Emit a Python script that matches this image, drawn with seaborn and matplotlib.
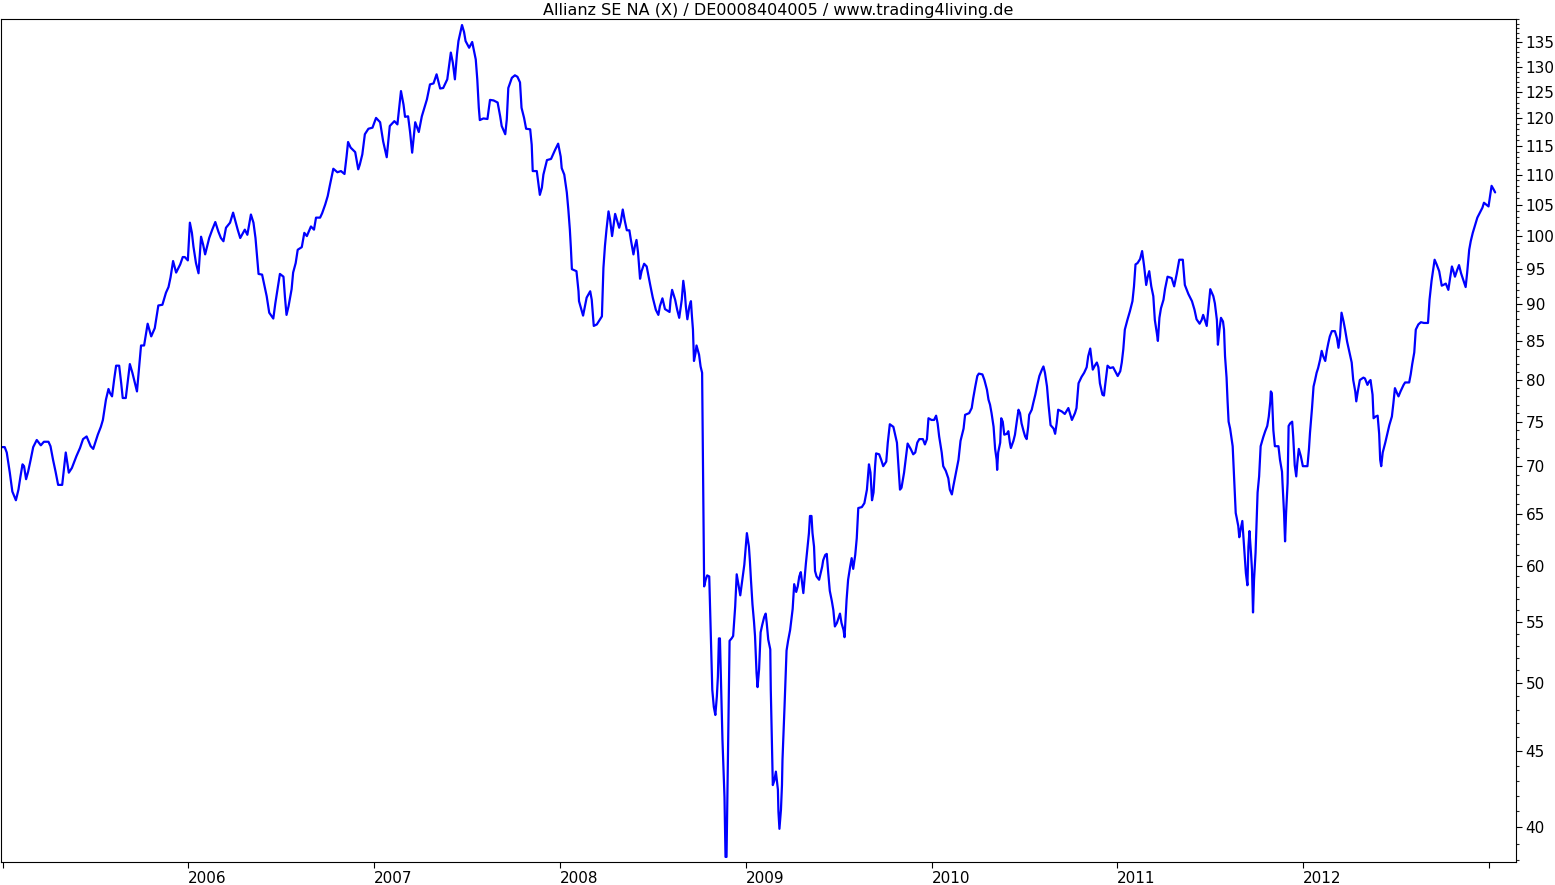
import matplotlib
matplotlib.use("Agg")
import matplotlib.pyplot as plt
import seaborn as sns
import pandas as pd
from matplotlib.ticker import FixedLocator, FixedFormatter, NullFormatter

title = "Allianz SE NA (X) / DE0008404005 / www.trading4living.de"
start = "2005-01-01"

# days since 2005-01-01 and weekly closing prices (EUR)
days_01 = [-3, 4, 8, 14, 19, 26, 31, 35, 39, 42, 46, 50, 55, 60, 67, 75, 81, 90, 94, 99, 104, 109, 117, 124, 130, 136, 145, 152, 158, 165, 173, 178, 187, 193]
price_01 = [72.1, 72.1, 71.5, 69.3, 67.3, 66.4, 67.5, 68.9, 70.2, 70.0, 68.6, 69.4, 70.7, 72.1, 72.9, 72.3, 72.7, 72.7, 72.2, 70.7, 69.4, 68.0, 68.0, 71.5, 69.3, 69.8, 71.1, 72.0, 73.0, 73.3, 72.2, 71.9, 73.5, 74.4]

days_02 = [197, 200, 203, 208, 211, 215, 219, 223, 229, 233, 236, 242, 250, 255, 260, 264, 270, 272, 278, 285, 292, 299, 306, 314, 321, 326, 330, 335, 341, 349, 354, 358, 364, 368, 372, 375, 380, 385]
price_02 = [75.2, 76.4, 77.6, 78.9, 78.4, 78.0, 80.0, 81.8, 81.8, 79.6, 77.8, 77.8, 82.0, 80.9, 79.6, 78.6, 83.0, 84.4, 84.4, 87.3, 85.6, 86.7, 89.8, 89.9, 91.6, 92.4, 93.8, 96.2, 94.5, 95.7, 96.8, 96.8, 96.3, 102.1, 100.5, 98.4, 95.9, 94.4]

days_03 = [390, 394, 398, 406, 412, 418, 424, 429, 434, 439, 447, 453, 462, 467, 476, 481, 488, 493, 497, 503, 510, 519, 524, 532, 536, 545, 552, 555, 558, 562, 568, 571, 576, 580]
price_03 = [99.9, 98.7, 97.2, 99.7, 101.0, 102.2, 100.7, 99.7, 99.2, 101.3, 102.1, 103.7, 101.0, 99.7, 101.0, 100.2, 103.4, 102.1, 99.7, 94.3, 94.2, 91.1, 88.8, 88.0, 90.1, 94.3, 93.9, 90.9, 88.5, 89.7, 92.1, 94.5, 95.9, 97.9]

days_04 = [588, 593, 598, 606, 612, 616, 624, 628, 634, 639, 643, 647, 650, 658, 665, 672, 676, 679, 684, 693, 699, 702, 707, 712, 719, 727, 734, 742, 748, 755, 761, 770, 776, 783]
price_04 = [98.3, 100.5, 100.0, 101.5, 101.0, 102.9, 102.9, 103.6, 105.0, 106.4, 108.1, 109.7, 111.0, 110.4, 110.6, 110.1, 113.1, 115.7, 114.7, 113.9, 110.9, 111.7, 113.5, 117.1, 118.1, 118.3, 120.1, 119.3, 115.8, 113.0, 118.6, 119.5, 118.9, 125.2]

days_05 = [788, 791, 797, 801, 805, 811, 818, 824, 829, 834, 840, 847, 853, 860, 866, 874, 881, 885, 889, 893, 896, 903, 907, 910, 917, 923, 930, 933, 936, 938, 945, 953, 958, 965, 973]
price_05 = [122.6, 120.3, 120.4, 117.4, 113.8, 119.3, 117.5, 120.4, 122.0, 123.6, 126.5, 126.7, 128.5, 125.7, 125.8, 127.5, 132.9, 130.8, 127.5, 132.5, 135.3, 138.7, 137.2, 135.3, 133.9, 135.1, 131.5, 127.5, 122.0, 119.7, 120.0, 119.9, 123.5, 123.4, 123.0]

days_06 = [978, 981, 988, 991, 994, 1001, 1007, 1012, 1017, 1020, 1025, 1029, 1037, 1040, 1042, 1050, 1056, 1060, 1063, 1070, 1078, 1086, 1092, 1097, 1099, 1104, 1109, 1112, 1115, 1117, 1119, 1128, 1132, 1133, 1141, 1148, 1155, 1158, 1162, 1168, 1178]
price_06 = [120.4, 118.6, 117.1, 119.8, 125.8, 127.8, 128.3, 128.0, 126.9, 122.0, 120.1, 118.1, 118.0, 115.2, 110.6, 110.6, 106.6, 107.8, 110.0, 112.5, 112.7, 114.3, 115.4, 113.1, 111.1, 110.0, 107.0, 104.2, 101.0, 98.2, 95.0, 94.7, 91.8, 90.4, 88.4, 90.9, 91.8, 90.6, 87.0, 87.2, 88.3]

days_07 = [1181, 1184, 1187, 1191, 1194, 1198, 1204, 1208, 1212, 1215, 1219, 1223, 1227, 1232, 1235, 1240, 1243, 1246, 1249, 1253, 1256, 1261, 1266, 1269, 1273, 1278, 1284, 1289, 1292, 1297, 1302, 1311, 1313, 1316, 1322, 1326, 1330, 1335, 1338, 1341, 1343, 1346, 1350, 1353, 1355, 1357, 1359, 1362, 1364, 1369, 1372, 1375]
price_07 = [95.2, 98.5, 101.0, 103.9, 102.6, 100.0, 103.5, 102.4, 101.3, 102.2, 104.2, 102.4, 100.9, 100.9, 99.4, 97.2, 98.5, 99.4, 97.5, 93.6, 94.7, 95.8, 95.4, 94.2, 92.7, 90.9, 89.2, 88.5, 89.7, 90.8, 89.3, 88.9, 90.6, 92.0, 90.6, 89.2, 88.1, 90.6, 93.3, 91.6, 89.7, 87.9, 89.7, 90.4, 88.3, 86.5, 82.4, 83.4, 84.4, 83.2, 81.7, 80.9]

days_08 = [1379, 1382, 1385, 1389, 1392, 1395, 1398, 1401, 1404, 1406, 1408, 1410, 1415, 1419, 1421, 1423, 1429, 1433, 1436, 1440, 1443, 1450, 1458, 1463, 1467, 1469, 1471, 1474, 1477, 1479, 1482, 1484, 1487, 1490, 1493, 1497, 1500, 1502, 1505, 1509, 1510, 1512, 1514, 1517, 1520, 1524, 1525, 1527, 1530, 1532, 1533, 1535, 1537, 1539, 1541, 1544, 1548, 1551, 1553, 1556, 1560, 1563, 1566, 1569, 1574, 1579, 1585]
price_08 = [58.1, 58.7, 59.1, 59.0, 54.1, 49.5, 48.2, 47.6, 49.0, 50.5, 53.6, 53.6, 45.8, 41.9, 38.2, 38.2, 53.4, 53.6, 53.8, 56.3, 59.2, 57.3, 60.1, 63.1, 61.8, 60.4, 58.7, 56.5, 55.0, 53.8, 50.8, 49.7, 51.1, 54.1, 54.7, 55.4, 55.7, 54.9, 53.5, 52.7, 49.5, 45.8, 42.7, 43.0, 43.6, 42.4, 41.0, 39.9, 41.1, 42.7, 44.4, 46.2, 48.2, 50.3, 52.6, 53.4, 54.3, 55.4, 56.1, 58.3, 57.6, 58.1, 59.0, 59.4, 57.5, 60.2, 63.1]

days_09 = [1587, 1590, 1592, 1595, 1597, 1600, 1605, 1608, 1611, 1613, 1617, 1620, 1623, 1626, 1630, 1633, 1636, 1640, 1643, 1646, 1649, 1653, 1655, 1657, 1659, 1662, 1666, 1669, 1672, 1676, 1679, 1682, 1689, 1694, 1699, 1703, 1706, 1709, 1712, 1715, 1717, 1723, 1727, 1731, 1737, 1740, 1744, 1751, 1754, 1758, 1761, 1764, 1767, 1772, 1776]
price_09 = [64.8, 64.8, 63.1, 61.8, 59.5, 59.0, 58.7, 59.3, 59.9, 60.5, 61.0, 61.1, 59.3, 57.7, 56.8, 56.0, 54.6, 54.9, 55.3, 55.7, 54.9, 54.3, 53.7, 55.3, 56.9, 58.7, 59.9, 60.7, 59.7, 61.0, 62.6, 65.6, 65.7, 66.1, 67.5, 70.2, 69.3, 66.4, 67.2, 70.0, 71.4, 71.3, 70.7, 70.0, 70.5, 72.6, 74.7, 74.4, 73.6, 72.6, 70.0, 67.5, 67.7, 69.3, 71.1]

days_10 = [1779, 1785, 1790, 1794, 1798, 1802, 1809, 1813, 1817, 1820, 1826, 1831, 1835, 1838, 1841, 1846, 1849, 1854, 1859, 1862, 1866, 1869, 1874, 1879, 1883, 1889, 1892, 1900, 1905, 1908, 1912, 1916, 1919, 1926, 1930, 1935, 1938, 1941, 1944, 1948, 1951, 1954, 1955, 1957, 1961, 1963, 1966, 1969, 1974, 1977, 1980, 1982, 1987, 1990, 1994, 1997, 2000, 2003, 2007, 2010, 2013, 2016]
price_10 = [72.5, 71.9, 71.3, 71.5, 72.6, 73.0, 73.0, 72.4, 73.0, 75.4, 75.2, 75.2, 75.7, 74.8, 73.3, 71.5, 70.0, 69.5, 68.7, 67.5, 67.0, 67.9, 69.3, 70.7, 72.8, 74.2, 75.8, 76.0, 76.6, 77.8, 79.2, 80.5, 80.8, 80.7, 80.0, 78.8, 77.6, 77.0, 76.0, 74.4, 71.9, 70.7, 69.6, 71.5, 72.6, 75.4, 75.0, 73.5, 73.6, 73.9, 72.6, 72.0, 72.8, 73.5, 75.2, 76.4, 76.0, 74.8, 73.9, 73.3, 73.0, 74.4]

days_11 = [2018, 2023, 2026, 2030, 2034, 2038, 2043, 2046, 2049, 2053, 2056, 2060, 2066, 2069, 2072, 2075, 2082, 2088, 2095, 2102, 2108, 2111, 2115, 2121, 2126, 2131, 2134, 2138, 2143, 2147, 2151, 2154, 2157, 2162, 2165, 2167, 2172, 2177, 2183, 2192, 2197, 2200, 2203, 2206, 2211, 2216, 2221, 2224]
price_11 = [75.8, 76.4, 77.2, 78.2, 79.4, 80.5, 81.3, 81.7, 80.9, 79.2, 77.0, 74.6, 74.2, 73.6, 74.8, 76.4, 76.2, 75.9, 76.6, 75.2, 76.0, 76.6, 79.6, 80.4, 80.9, 81.6, 83.0, 84.0, 81.3, 81.8, 82.2, 81.6, 79.6, 78.2, 78.1, 79.2, 81.8, 81.5, 81.6, 80.5, 81.1, 82.2, 83.9, 86.5, 87.8, 89.0, 90.4, 92.5]

days_12 = [2227, 2231, 2236, 2240, 2244, 2248, 2251, 2254, 2258, 2262, 2265, 2269, 2271, 2274, 2277, 2282, 2285, 2290, 2298, 2303, 2308, 2313, 2320, 2324, 2331, 2338, 2343, 2347, 2353, 2357, 2360, 2367, 2370, 2374, 2380, 2383, 2387, 2389, 2392, 2395, 2399, 2401, 2403, 2406, 2408, 2410, 2413, 2416, 2418, 2420, 2422, 2424, 2426]
price_12 = [95.7, 95.9, 96.5, 97.7, 95.4, 92.7, 93.9, 94.7, 92.5, 91.1, 87.8, 86.0, 85.0, 88.1, 89.4, 90.6, 92.1, 93.9, 93.7, 92.5, 94.3, 96.4, 96.4, 92.7, 91.4, 90.4, 89.2, 87.9, 87.3, 87.8, 88.5, 87.0, 89.2, 92.1, 91.1, 90.1, 87.8, 84.5, 86.5, 88.1, 87.6, 86.5, 83.0, 80.3, 77.4, 75.0, 74.2, 73.0, 72.2, 69.8, 67.5, 65.1, 64.6]

days_13 = [2429, 2431, 2433, 2435, 2437, 2439, 2441, 2444, 2447, 2449, 2451, 2454, 2456, 2458, 2460, 2463, 2465, 2467, 2470, 2473, 2478, 2482, 2486, 2489, 2492, 2493, 2495, 2498, 2501, 2508, 2511, 2515, 2516, 2519, 2521, 2523, 2526, 2528, 2531, 2535, 2537, 2540, 2543, 2545, 2548, 2552, 2556, 2565, 2568, 2570, 2574, 2577, 2580, 2583, 2586, 2590, 2593, 2596, 2600, 2603, 2606, 2609, 2613, 2619, 2623, 2626, 2629, 2632]
price_13 = [63.8, 62.7, 63.3, 63.8, 64.3, 62.8, 61.2, 59.3, 58.2, 61.8, 63.3, 61.2, 59.6, 55.8, 58.7, 61.2, 64.1, 67.2, 68.9, 72.2, 73.2, 73.9, 74.5, 75.6, 77.4, 78.6, 78.4, 74.0, 72.2, 72.2, 70.7, 69.4, 68.2, 65.1, 62.3, 65.1, 68.2, 74.5, 74.8, 75.0, 73.3, 70.1, 68.9, 70.3, 71.9, 71.1, 70.0, 70.0, 71.9, 73.7, 76.6, 79.2, 80.0, 80.9, 81.5, 82.6, 83.7, 83.0, 82.4, 83.7, 84.7, 85.6, 86.3, 86.3, 85.4, 84.1, 85.6, 88.8]

days_14 = [2636, 2639, 2643, 2647, 2652, 2655, 2659, 2661, 2664, 2668, 2675, 2678, 2683, 2686, 2689, 2693, 2695, 2699, 2703, 2706, 2708, 2710, 2713, 2718, 2722, 2726, 2731, 2734, 2737, 2741, 2744, 2748, 2754, 2757, 2765, 2768, 2771, 2775, 2778, 2783, 2788, 2794, 2802, 2805, 2809, 2815, 2819, 2824, 2829, 2832, 2837, 2842, 2845, 2849, 2852, 2855, 2859, 2863, 2867, 2872, 2876, 2879, 2883, 2886, 2890, 2895, 2899, 2904, 2909, 2912, 2918, 2921, 2924, 2927, 2931, 2934]
price_14 = [87.6, 86.5, 84.9, 83.7, 82.2, 80.0, 78.6, 77.4, 78.6, 80.0, 80.3, 80.2, 79.4, 79.8, 80.0, 78.2, 75.4, 75.6, 75.7, 73.6, 70.7, 70.0, 71.5, 72.6, 73.6, 74.6, 75.6, 77.2, 79.0, 78.4, 78.0, 78.6, 79.4, 79.7, 79.7, 80.7, 82.0, 83.5, 86.5, 87.2, 87.5, 87.4, 87.4, 90.6, 93.3, 96.4, 95.7, 94.7, 92.6, 92.7, 92.9, 92.0, 93.5, 95.4, 94.7, 93.9, 94.8, 95.6, 94.4, 93.3, 92.4, 94.5, 97.9, 99.2, 100.5, 101.8, 102.9, 103.7, 104.5, 105.3, 104.9, 104.7, 106.4, 108.1, 107.5, 107.0]

y_ticks = [40, 45, 50, 55, 60, 65, 70, 75, 80, 85, 90, 95, 100, 105, 110, 115, 120, 125, 130, 135]
x_years = [2005, 2006, 2007, 2008, 2009, 2010, 2011, 2012, 2013]
x_labels = ["", "2006", "2007", "2008", "2009", "2010", "2011", "2012", ""]

day_parts = [days_01, days_02, days_03, days_04, days_05, days_06, days_07,
             days_08, days_09, days_10, days_11, days_12, days_13, days_14]
price_parts = [price_01, price_02, price_03, price_04, price_05, price_06, price_07,
               price_08, price_09, price_10, price_11, price_12, price_13, price_14]
days, prices = [], []
for d, p in zip(day_parts, price_parts):
    assert len(d) == len(p), (len(d), len(p))
    days += d
    prices += p

t0 = pd.Timestamp(start)
df = pd.DataFrame({"date": t0 + pd.to_timedelta(days, unit="D"), "price": prices})

sns.set_style("white")
plt.rcParams["font.family"] = ["DejaVu Sans"]

W, H = 1555, 885
fig = plt.figure(figsize=(W / 100, H / 100), dpi=100)
fig.patch.set_facecolor("white")
ax = fig.add_axes([1 / W, (H - 862) / H, 1515 / W, 843 / H])

sns.lineplot(data=df, x="date", y="price", ax=ax, color="#0000ff",
             linewidth=1.6, estimator=None, sort=False)

ax.set_yscale("log")
ax.set_ylim(37.9, 140)
ax.set_xlim(t0 - pd.Timedelta(days=3.3), t0 + pd.Timedelta(days=2975))
ax.set_xlabel("")
ax.set_ylabel("")

ax.yaxis.tick_right()
ax.yaxis.set_major_locator(FixedLocator(y_ticks))
ax.yaxis.set_major_formatter(FixedFormatter([str(v) for v in y_ticks]))
ax.yaxis.set_minor_locator(FixedLocator([v for v in range(38, 141) if v not in y_ticks]))
ax.yaxis.set_minor_formatter(NullFormatter())

ax.set_xticks([pd.Timestamp(f"{y}-01-01") for y in x_years])
ax.set_xticklabels(x_labels, ha="left")
ax.xaxis.set_minor_locator(FixedLocator([]))

ax.tick_params(axis="y", which="major", direction="out", length=4, width=0.8,
               labelsize=11, pad=3, colors="black", right=True, left=False)
ax.tick_params(axis="y", which="minor", direction="out", length=2.5, width=0.8,
               right=True, left=False)
ax.tick_params(axis="x", which="major", direction="out", length=4, width=0.8,
               labelsize=11, pad=2.5, colors="black", bottom=True)

for s in ax.spines.values():
    s.set_visible(True)
    s.set_color("black")
    s.set_linewidth(0.8)

fig.text(778 / W, 1 - 10 / H, title, ha="center", va="center", fontsize=11.5, color="black")

fig.savefig("out.png", dpi=100, facecolor="white")
